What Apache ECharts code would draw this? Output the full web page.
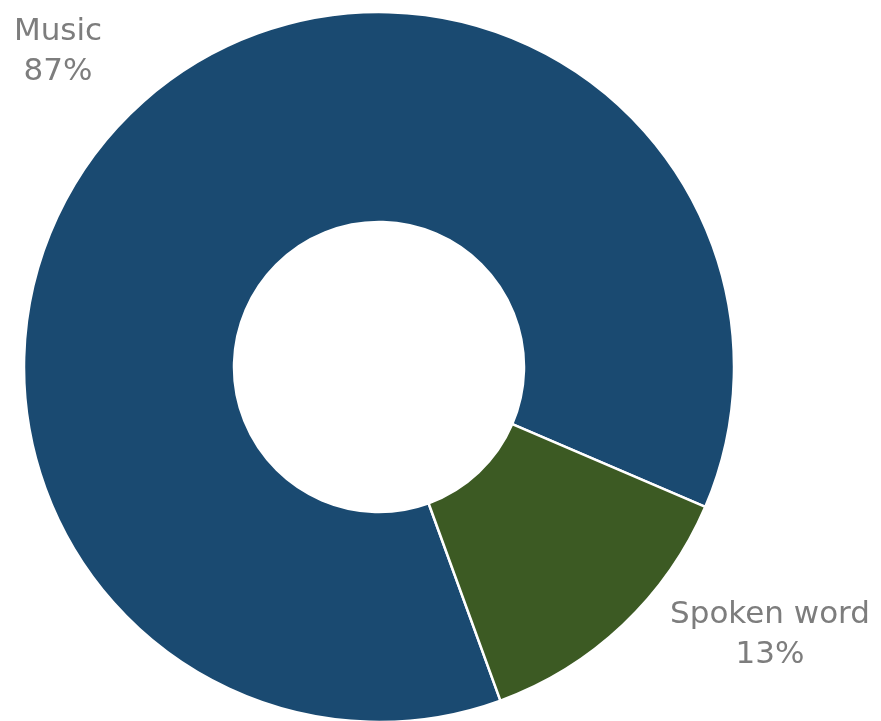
<!DOCTYPE html>
<html>
<head>
<meta charset="utf-8">
<script src="https://cdn.jsdelivr.net/npm/echarts@6/dist/echarts.min.js"></script>
<style>
  html, body { margin: 0; padding: 0; background: #ffffff; }
  #chart { width: 881px; height: 721px; }
</style>
</head>
<body>
<div id="chart"></div>
<script>
// Listening share by content type
const categories = ['Music', 'Spoken word'];
const shares = [87, 13];
const sliceColors = ['#1a4a71', '#3c5a23'];

// Where each category's caption sits on the canvas
const labelSpots = {
  'Music': [58, 52],
  'Spoken word': [770, 635]
};

const chart = echarts.init(document.getElementById('chart'), null, { renderer: 'canvas' });

chart.setOption({
  animation: false,
  backgroundColor: '#ffffff',
  series: [{
    type: 'pie',
    center: [379, 367],
    radius: [145, 355],
    startAngle: 290,
    clockwise: true,
    avoidLabelOverlap: false,
    data: categories.map((name, i) => ({
      name: name,
      value: shares[i],
      itemStyle: { color: sliceColors[i] }
    })),
    itemStyle: { borderColor: '#ffffff', borderWidth: 2.5 },
    label: {
      show: true,
      position: 'outside',
      formatter: '{b}\n{d}%',
      fontFamily: 'DejaVu Sans',
      fontSize: 31,
      lineHeight: 40,
      color: '#7d7d7d',
      align: 'center'
    },
    labelLine: { show: false },
    labelLayout: function (params) {
      const name = categories[params.dataIndex];
      const p = labelSpots[name];
      return { x: p[0], y: p[1], align: 'center', verticalAlign: 'middle' };
    },
    emphasis: { disabled: true }
  }]
});
</script>
</body>
</html>
